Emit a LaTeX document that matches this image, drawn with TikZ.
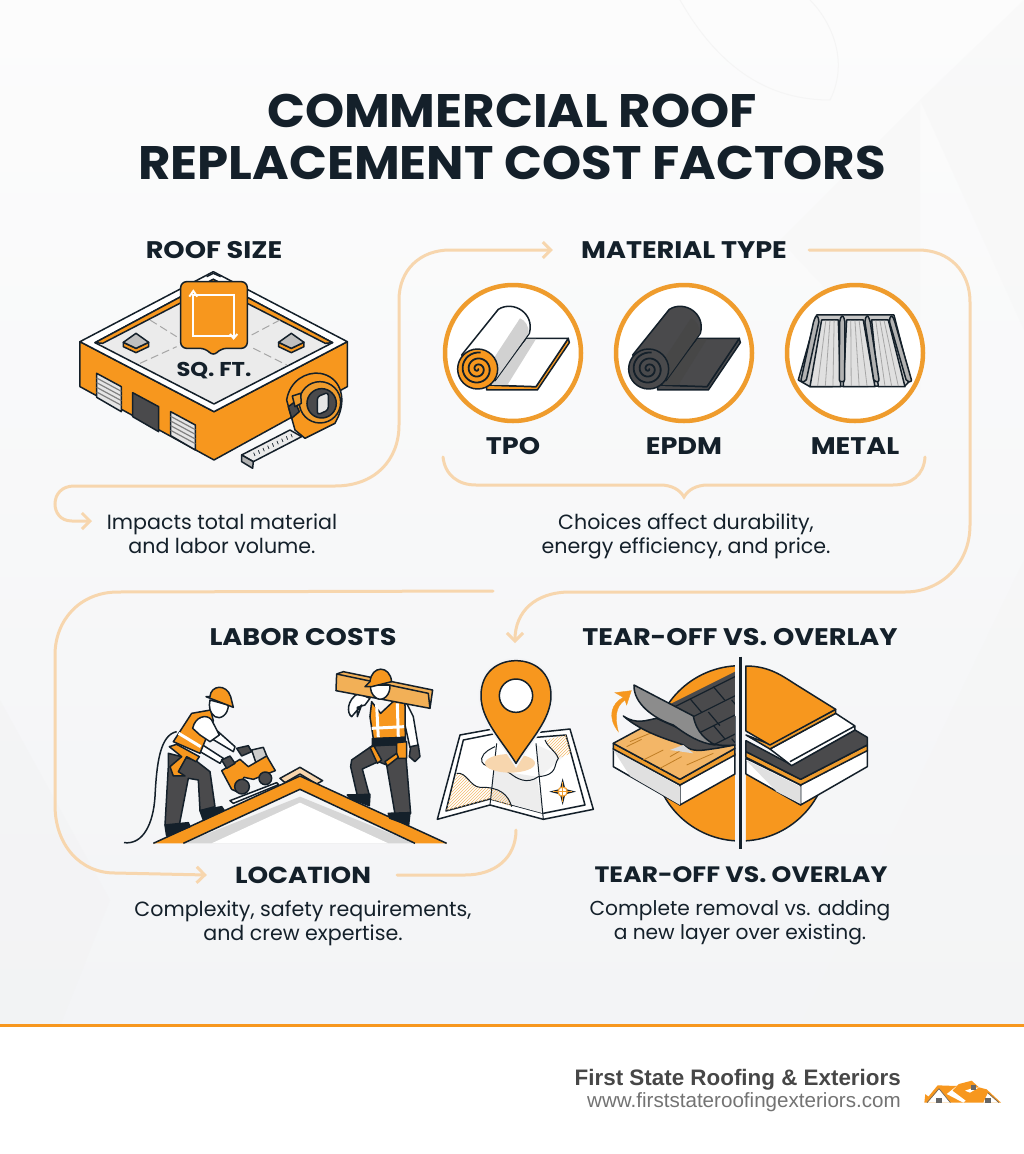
\documentclass[tikz,border=0pt]{standalone}
\usepackage{fontspec}
\setmainfont{Poppins}
\newfontfamily\footfont{Liberation Sans}
\newfontfamily\titlefont{Poppins}[FakeStretch=1.06]
\newfontfamily\headfont{Poppins}[FakeStretch=1.13]
\usetikzlibrary{arrows.meta,patterns}
\definecolor{inkc}{HTML}{14202A}
\definecolor{orangeM}{HTML}{F7971E}
\definecolor{ringc}{HTML}{EF9C2D}
\definecolor{tanc}{HTML}{F7D6AE}
\definecolor{darkg}{HTML}{4A4A4C}
\definecolor{papertop}{HTML}{FCFCFC}
\definecolor{paperlow}{HTML}{F3F4F6}
\tikzstyle{ink}=[draw=inkc,line width=1.5pt,line join=round]
\tikzstyle{flow}=[draw=tanc,line width=3pt,line cap=round,{Straight Barb[length=8pt,width=16pt,line width=3pt]}-{Straight Barb[length=8pt,width=16pt,line width=3pt]}]
\tikzstyle{flowend}=[draw=tanc,line width=3pt,line cap=round,-{Straight Barb[length=8pt,width=16pt,line width=3pt]}]
\tikzstyle{plainflow}=[draw=tanc,line width=3pt,line cap=round]
\tikzstyle{heading}=[inner sep=0pt,text=inkc,font=\headfont\fontsize{24}{26}\selectfont\bfseries]
\tikzstyle{lowhead}=[inner sep=0pt,text=inkc,font=\headfont\fontsize{23.2}{26}\selectfont\bfseries]
\tikzstyle{titleline}=[inner sep=0pt,text=inkc,font=\titlefont\fontsize{47}{50}\selectfont\bfseries]
\tikzstyle{note}=[inner sep=0pt,text=inkc,align=center,font=\fontsize{20.6}{24}\selectfont]
\tikzstyle{zoomed}=[x=0.3333pt,y=-0.3333pt]
\begin{document}
\begin{tikzpicture}[x=1pt,y=-1pt]
    \useasboundingbox (0,0) rectangle (1024,1154);
    % First the page and its faint facets
    \shade[top color=papertop,bottom color=paperlow] (0,0) rectangle (1024,1026);
    \fill[black!4,opacity=.35] (920,100) -- (1024,0) -- (1024,330) -- cycle;
    \fill[black!4,opacity=.35] (780,240) -- (920,100) -- (920,390) -- cycle;
    \fill[black!5,opacity=.4] (0,700) -- (110,900) -- (60,1026) -- (0,1026) -- cycle;
    \fill[black!4,opacity=.4] (1024,560) -- (800,1026) -- (1024,1026) -- cycle;
    \draw[black!4,line width=1pt] (680,0) .. controls (720,70) and (770,100) .. (830,100) .. controls (850,60) and (830,20) .. (810,0);
    \fill[white] (0,1026) rectangle (1024,1154);
    \fill[orangeM] (0,1024) rectangle (1024,1027);
    % Then the title and all texts
    \node[titleline] (title1) at (512,111) {COMMERCIAL ROOF};
    \node[titleline] (title2) at (512,163) {REPLACEMENT COST FACTORS};
    \foreach \pos/\name/\txt in {{(214,250)/sizehead/ROOF SIZE}, {(684,250)/mathead/MATERIAL TYPE}, {(513,446)/tpohead/TPO}, {(684,446)/epdmhead/EPDM}, {(855,446)/metalhead/METAL}, {(303,637)/laborhead/LABOR COSTS}, {(740,637)/tearhead/TEAR-OFF VS. OVERLAY}}
        \node[heading] (\name) at \pos {\txt};
    \node[lowhead] (lochead) at (303,875) {LOCATION};
    \node[lowhead,font=\headfont\fontsize{22.3}{26}\selectfont\bfseries] (overhead) at (741,875) {TEAR-OFF VS. OVERLAY};
    \node[note] (sizenote) at (222,534) {Impacts total material\\and labor volume.};
    \node[note] (matnote) at (686,536) {Choices affect durability,\\energy efficiency, and price.};
    \node[note] (locnote) at (303,923) {Complexity, safety requirements,\\and crew expertise.};
    \node[note,font=\fontsize{20.2}{24}\selectfont] (overnote) at (740,923) {Complete removal vs. adding\\a new layer over existing.};
    \node[inner sep=0pt,anchor=east,text=black!72,font=\footfont\fontsize{22.4}{26}\selectfont\bfseries] (brand) at (901,1080) {First State Roofing \& Exteriors};
    \node[inner sep=0pt,anchor=east,text=black!55,font=\footfont\fontsize{20.6}{24}\selectfont] (site) at (901,1102) {www.firststateroofingexteriors.com};
    % Connectors between the blocks
    \coordinate (sizetip) at (92,521);
    \coordinate (pintip) at (515,643);
    \coordinate (looptip) at (493,591);
    \coordinate (mapfoot) at (516,830);
    \draw[flow] (sizetip) -- (72,521) .. controls (60,521) and (55,512) .. (55,504) .. controls (55,494) and (62,486) .. (74,486) -- (335,486) .. controls (375,486) and (399,460) .. (399,425) -- (399,300) .. controls (399,270) and (420,250) .. (450,250) -- ([xshift=-28pt]mathead.west);
    \draw[flowend] ([xshift=22pt]mathead.east) -- (918,250) .. controls (950,250) and (970,272) .. (970,302) -- (970,525) .. controls (970,565) and (940,592) .. (905,592) -- (570,592) .. controls (535,592) and (515,612) .. (pintip);
    \draw[flowend] (looptip) -- (118,592) .. controls (80,592) and (55,620) .. (55,655) -- (55,805) .. controls (55,845) and (80,873) .. (115,873) -- ([xshift=-28pt]lochead.west);
    \draw[plainflow] ([xshift=26pt]lochead.east) -- (465,875) .. controls (495,875) and (516,858) .. (mapfoot);
    \draw[plainflow] (443,457) .. controls (445,475) and (458,485) .. (476,485) -- (660,485) .. controls (672,485) and (680,490) .. (684,497) .. controls (688,490) and (696,485) .. (708,485) -- (893,485) .. controls (911,485) and (924,475) .. (925,457);

    % Roof size: the building
    \begin{scope}[shift={(60,230)},zoomed]
        \draw[ink,fill=orangeM] (60,335) -- (60,470) -- (462,690) -- (862,470) -- (862,335) -- (462,545) -- cycle;
        \draw[ink,fill=white] (60,335) -- (460,125) -- (862,335) -- (462,545) -- cycle;
        \draw[ink,fill=black!8] (105,338) -- (460,148) -- (818,338) -- (462,522) -- cycle;
        \draw[ink,fill=orangeM] (105,338) -- (460,148) -- (818,338) -- (796,340) -- (460,168) -- (128,340) -- cycle;
        \foreach \a/\b in {{(240,400)/(350,350)}, {(270,270)/(350,320)}, {(575,315)/(660,270)}, {(580,355)/(680,405)}}
            \draw[black!35,line width=1pt,dash pattern=on 8pt off 4pt] \a -- \b;
        \foreach \sx in {228,694} {
            \draw[ink,fill=orangeM] (\sx-38,337) -- (\sx-38,350) -- (\sx,368) -- (\sx+38,350) -- (\sx+38,337) -- (\sx,355) -- cycle;
            \draw[ink,fill=black!25] (\sx-38,337) -- (\sx,310) -- (\sx+38,337) -- (\sx,355) -- cycle;
        }
        % doors
        \foreach \p/\q in {110/430, 332/545} {
            \draw[ink,fill=black!10] (\p,\q) -- (\p+74,\q+40) -- (\p+74,\q+115) -- (\p,\q+72) -- cycle;
            \foreach \k in {14,28,42,56}
                \draw[black!50,line width=1.2pt] (\p,\q+\k) -- (\p+74,\q+40+\k);
        }
        \draw[ink,fill=darkg] (218,488) -- (296,530) -- (296,605) -- (218,560) -- cycle;
        % tape measure
        \draw[ink,fill=black!8] (545,675) -- (690,600) -- (725,620) -- (580,695) -- cycle;
        \draw[ink,fill=black!30] (545,675) -- (545,695) -- (578,715) -- (580,695) -- cycle;
        \foreach \k in {0,...,8}
            \draw[inkc,line width=.7pt] (585+14*\k,678-7*\k) -- (581+14*\k,668-7*\k);
        \draw[ink,fill=orangeM] (680,510) .. controls (690,450) and (740,425) .. (780,430) .. controls (840,440) and (860,500) .. (835,560) -- (825,580) -- (735,625) -- (705,600) -- cycle;
        \draw[ink,fill=ringc] (780,517) circle (62);
        \draw[ink,fill=darkg] (785,520) circle (44);
        \draw[ink,fill=black!10,rounded corners=3pt] (772,500) -- (805,487) -- (805,540) -- (772,555) -- cycle;
        \draw[ink,fill=darkg] (685,530) -- (705,515) -- (718,545) -- (695,565) -- cycle;
        \draw[ink,fill=ringc] (697,498) -- (722,490) -- (724,520) -- (705,530) -- cycle;
        % sq. ft. bubble
        \draw[ink,fill=orangeM,rounded corners=6pt] (362,155) -- (562,155) -- (562,355) -- (482,355) -- (460,380) -- (438,355) -- (362,355) -- cycle;
        \draw[white,line width=2pt] (400,195) -- (400,318) -- (522,318) -- (522,195) -- cycle;
        \draw[white,line width=2pt] (388,200) -- (400,183) -- (412,200);
        \draw[white,line width=2pt] (510,312) -- (521,325) -- (532,312);
        \draw[inkc,line width=1.4pt] (440,140) -- (460,130) -- (482,140);
    \end{scope}
    \node[inner sep=0pt,text=inkc,font=\headfont\fontsize{20}{22}\selectfont\bfseries] (sqft) at (214,371) {SQ. FT.};

    % Material circles
    \foreach \cx in {513,684,855}
        \draw[draw=ringc,fill=white,line width=4.5pt] (\cx,353) circle (68);
    \foreach \dx/\bodyc/\shadec/\sheetc/\edgec/\coilc/\linec in {0/white/black!18/white/orangeM/orangeM/inkc, 171/darkg/black!72/darkg/darkg/darkg/inkc} {
        \begin{scope}[shift={(430+\dx,270)},zoomed]
            \draw[ink,fill=\edgec] (415,205) -- (418,218) -- (322,360) -- (170,360) -- (170,345) -- (318,350) -- cycle;
            \draw[ink,fill=\sheetc] (290,205) -- (415,205) -- (318,350) -- (170,345) -- cycle;
            \fill[\shadec] (290,207) -- (318,207) -- (232,345) -- (185,345) -- cycle;
            \draw[ink,fill=\bodyc] (95,255) -- (205,118) .. controls (250,90) and (315,130) .. (298,190) -- (195,332) -- cycle;
            \fill[\shadec] (188,270) -- (270,145) .. controls (285,150) and (298,170) .. (296,190) -- (197,328) -- cycle;
            \draw[ink,fill=\coilc] (143,297) circle (60);
            \draw[\linec,line width=1.8pt,smooth] plot[domain=0:1000,samples=90] ({143+\x/20*cos(\x)},{297+\x/20*sin(\x)});
        \end{scope}
    }
    % Metal panel
    \begin{scope}[shift={(430,270)},zoomed]
        \draw[ink,fill=black!22] (1160,135) -- (1105,330) -- (1140,350) -- (1425,348) -- (1442,330) -- (1392,135) -- cycle;
        \foreach \ta/\tb/\ba/\bb in {1175/1225/1140/1232, 1250/1300/1240/1335, 1325/1375/1345/1425} {
            \draw[ink,fill=black!12] (\ta,150) -- (\tb,150) -- (\bb,350) -- (\ba,350) -- cycle;
            \foreach \f in {.25,.5,.75}
                \draw[black!35,line width=.8pt] (\ta+\f*\tb-\f*\ta,152) -- (\ba+\f*\bb-\f*\ba,348);
        }
        \foreach \ra/\rb in {1160/1120, 1237/1236, 1312/1340, 1385/1438}
            \draw[ink,fill=black!30,rounded corners=2pt] (\ra-8,150) -- (\ra,135) -- (\ra+8,150) -- (\rb+8,335) -- (\rb-8,335) -- cycle;
    \end{scope}

    % Labor costs: roof and two workers
    \begin{scope}[shift={(120,650)},zoomed]
        \fill[black!16] (190,580) -- (540,440) -- (885,580) -- cycle;
        \fill[white] (275,580) -- (540,458) -- (805,580) -- cycle;
        \draw[ink,fill=tanc] (480,385) -- (540,352) -- (608,392) -- (590,402) -- (540,372) -- (495,398) -- cycle;
        \fill[orangeM] (100,580) -- (540,378) -- (980,580) -- (885,580) -- (540,418) -- (190,580) -- cycle;
        \draw[ink] (100,580) -- (540,378) -- (980,580);
        \draw[ink] (190,580) -- (540,418) -- (885,580);
        \draw[inkc,line width=1.5pt] (12,578) .. controls (70,585) and (100,520) .. (105,440) .. controls (110,340) and (120,255) .. (170,245);
        % left worker
        \draw[ink,fill=darkg] (145,350) -- (135,525) -- (178,525) -- (205,385) -- (235,390) -- (240,482) -- (285,470) -- (270,365) -- (225,330) -- (145,310) -- cycle;
        \draw[ink,fill=inkc] (135,525) -- (205,518) -- (210,530) -- (140,558) -- cycle;
        \draw[ink,fill=inkc] (240,482) -- (305,470) -- (312,480) -- (250,510) -- cycle;
        \draw[ink,fill=white] (272,225) -- (345,290) -- (340,305) -- (265,260) -- cycle;
        \draw[ink,fill=white] (225,270) -- (310,325) -- (300,340) -- (215,290) -- cycle;
        \draw[ink,fill=orangeM] (160,275) -- (215,190) -- (272,180) -- (280,212) -- (240,310) -- cycle;
        \draw[ink,fill=white] (218,235) .. controls (225,200) and (260,190) .. (275,210) -- (298,255) -- (270,275) -- (240,255) -- cycle;
        \draw[white,line width=3pt] (176,250) -- (242,290);
        \draw[ink,fill=orangeM] (148,290) -- (170,283) -- (238,320) -- (228,335) -- (200,320) -- (175,365) -- (195,378) -- (160,378) -- (150,350) -- (185,320) -- cycle;
        \draw[ink,fill=white] (270,150) -- (325,165) .. controls (325,195) and (300,210) .. (285,200) .. controls (270,190) and (265,170) .. (270,150) -- cycle;
        \draw[ink,fill=orangeM] (270,140) .. controls (272,105) and (320,100) .. (332,140) -- (340,172) -- (258,140) -- cycle;
        % saw
        \draw[ink,fill=white] (330,452) -- (470,398) -- (476,404) -- (340,460) -- cycle;
        \draw[ink,fill=black!20] (395,300) -- (430,292) -- (445,330) -- (410,345) -- cycle;
        \draw[ink,fill=orangeM] (305,362) -- (360,328) -- (385,350) -- (440,318) -- (466,362) -- (400,388) -- (372,382) -- (350,425) -- (335,418) -- cycle;
        \draw[ink,fill=darkg] (366,410) circle (22);
        \draw[ink,fill=darkg] (436,385) circle (19);
        \draw[ink,fill=darkg] (350,295) -- (385,287) -- (395,305) -- (365,318) -- cycle;
        \draw[ink,fill=darkg] (305,330) -- (330,318) -- (345,340) -- (320,355) -- cycle;
        % right worker
        \draw[ink,fill=white] (725,165) -- (695,200) .. controls (680,190) and (680,150) .. (715,130) -- (750,145) -- (735,165) -- (712,172) -- (712,200) -- cycle;
        \draw[ink,fill=darkg] (760,285) -- (695,330) -- (692,350) -- (712,437) -- (748,435) -- (727,357) -- (775,335) -- (800,345) -- (825,492) -- (872,490) -- (855,285) -- cycle;
        \draw[ink,fill=inkc] (682,435) -- (750,433) -- (748,467) -- (690,445) -- cycle;
        \draw[ink,fill=inkc] (805,490) -- (870,488) -- (866,525) -- (810,505) -- cycle;
        \draw[ink,fill=white] (855,150) -- (880,200) -- (895,290) -- (870,292) -- (855,225) -- cycle;
        \draw[ink,fill=orangeM] (755,155) -- (782,190) -- (830,145) -- (855,160) -- (856,262) -- (760,266) -- (750,200) -- cycle;
        \draw[white,line width=3pt] (770,165) -- (775,262);
        \draw[white,line width=3pt] (832,160) -- (835,262);
        \draw[white,line width=3pt] (755,235) -- (852,230);
        \draw[ink,fill=inkc] (757,266) -- (856,262) -- (856,282) -- (757,288) -- cycle;
        \draw[ink,fill=orangeM] (830,278) -- (860,275) -- (860,325) -- (830,325) -- cycle;
        \draw[ink,fill=orangeM] (750,292) -- (762,288) -- (785,330) -- (772,340) -- cycle;
        \draw[ink,fill=orangeM] (795,335) -- (830,310) -- (835,322) -- (802,348) -- cycle;
        \draw[ink,fill=darkg] (872,290) -- (895,285) -- (900,320) -- (885,335) -- (868,320) -- cycle;
        \draw[ink,fill=ringc!80!white] (648,122) -- (650,72) -- (670,65) -- (938,120) -- (930,175) -- cycle;
        \draw[ink] (650,72) -- (925,130) -- (930,175);
        \draw[ink,fill=white] (752,105) -- (810,105) .. controls (812,135) and (790,155) .. (770,145) .. controls (755,135) and (750,120) .. (752,105) -- cycle;
        \draw[ink,fill=orangeM] (750,95) .. controls (755,45) and (810,45) .. (815,95) -- (755,110) -- (735,110) -- cycle;
    \end{scope}

    % Location: map and pin
    \begin{scope}[shift={(430,650)},zoomed]
        \draw[ink,fill=white] (22,508) -- (90,255) -- (200,235) -- (318,248) -- (420,237) -- (490,478) -- (340,508) -- (180,465) -- cycle;
        \draw[ink] (48,483) -- (100,270) -- (200,250) -- (318,262) -- (408,255) -- (465,465) -- (340,490) -- (180,447) -- cycle;
        \fill[black!7] (190,360) -- (320,380) -- (340,490) -- (182,447) -- cycle;
        \fill[black!5] (320,285) -- (400,320) -- (330,380) -- cycle;
        \path[pattern=north east lines,pattern color=ringc!70] (48,483) -- (80,370) .. controls (110,365) and (120,410) .. (150,412) .. controls (210,410) and (235,435) .. (245,470) -- (180,447) -- cycle;
        \path[pattern=north east lines,pattern color=ringc!70] (345,270) -- (408,255) -- (423,310) -- (385,325) .. controls (375,300) and (355,295) .. (345,270) -- cycle;
        \draw[inkc,line width=1pt] (80,370) .. controls (110,365) and (120,410) .. (150,412) .. controls (210,410) and (235,435) .. (245,470);
        \draw[inkc,line width=1pt] (345,270) .. controls (355,295) and (375,300) .. (385,325) .. controls (370,345) and (385,375) .. (325,380) .. controls (290,405) and (260,385) .. (240,370) .. controls (210,345) and (150,360) .. (155,325) .. controls (160,305) and (185,295) .. (195,290);
        \draw[inkc,line width=1pt] (200,280) -- (180,465);
        \draw[inkc,line width=1pt] (318,280) -- (340,508);
        \fill[tanc] (240,340) ellipse (75 and 28);
        \foreach \t in {0,90,180,270}
            \fill[inkc,rotate around={\t:(398,425)}] (398,385) -- (406,417) -- (398,425) -- (390,417) -- cycle;
        \draw[draw=ringc,fill=white,line width=1.2pt] (398,425) circle (14);
        \draw[draw=ringc,line width=1.6pt] (370,425) -- (426,425);
        \draw[draw=ringc,line width=1.6pt] (398,395) -- (398,455);
        \draw[paperlow,line width=5pt] (258,340) .. controls (215,270) and (153,210) .. (153,137) .. controls (153,65) and (205,32) .. (258,32) .. controls (311,32) and (363,65) .. (363,137) .. controls (363,210) and (300,270) .. (258,340) -- cycle;
        \draw[ink,fill=orangeM] (258,340) .. controls (215,270) and (153,210) .. (153,137) .. controls (153,65) and (205,32) .. (258,32) .. controls (311,32) and (363,65) .. (363,137) .. controls (363,210) and (300,270) .. (258,340) -- cycle;
        \draw[ink,fill=white] (258,137) circle (50);
    \end{scope}

    % Tear-off against overlay
    \begin{scope}[shift={(430,650)},zoomed]
        \begin{scope}
            \clip (600,0) rectangle (915,600);
            \draw[ink,fill=orangeM] (932,310) circle (263);
        \end{scope}
        \begin{scope}
            \clip (948,350) rectangle (1300,600);
            \draw[ink,fill=orangeM] (932,310) circle (263);
        \end{scope}
        \draw[ink,fill=white] (550,295) -- (750,405) -- (750,465) -- (550,350) -- cycle;
        \draw[ink,fill=white] (750,405) -- (915,312) -- (915,372) -- (750,465) -- cycle;
        \fill[black!12] (550,300) -- (750,410) -- (750,465) -- (600,378) -- cycle;
        \draw[ink,fill=ringc] (550,280) -- (750,388) -- (915,295) -- (915,315) -- (750,405) -- (550,297) -- cycle;
        \draw[ink,fill=tanc!45!ringc] (550,280) -- (670,215) -- (915,200) -- (915,295) -- (750,388) -- cycle;
        \foreach \a/\b in {{(600,275)/(660,250)}, {(640,330)/(700,300)}, {(690,355)/(755,320)}, {(590,290)/(635,268)}, {(720,320)/(790,280)}, {(770,345)/(850,310)}}
            \draw[ringc!80!black,line width=.8pt] \a -- \b;
        \begin{scope}
            \clip (700,60) rectangle (915,300);
            \fill[darkg] (715,165) -- (915,65) -- (915,285) -- (830,290) -- cycle;
            \foreach \k in {0,1,2,3,4}
                \draw[inkc,line width=1.2pt] (725+35*\k,175+40*\k) -- (925+35*\k,75+40*\k);
            \foreach \k/\s in {0/0,1/20,2/0,3/20,4/0} {
                \draw[inkc,line width=1.2pt] (780+\s+35*\k,146+40*\k) -- (815+\s+35*\k,187+40*\k);
                \draw[inkc,line width=1.2pt] (850+\s+35*\k,110+40*\k) -- (885+\s+35*\k,151+40*\k);
            }
        \end{scope}
        \draw[ink,fill=darkg] (580,198) .. controls (620,225) and (650,210) .. (680,205) -- (780,250) .. controls (820,280) and (860,290) .. (915,285) -- (860,295) .. controls (820,300) and (790,310) .. (760,285) .. controls (720,270) and (640,250) .. (580,198) -- cycle;
        \draw[ink,fill=black!45] (612,105) -- (790,198) .. controls (800,250) and (830,270) .. (855,285) .. controls (810,280) and (770,255) .. (730,225) .. controls (670,205) and (610,160) .. (612,105) -- cycle;
        \fill[black!15] (720,300) -- (760,285) -- (790,310) -- cycle;
        \draw[draw=ringc,fill=orangeM] (565,245) .. controls (530,200) and (545,160) .. (580,142) -- (555,128) -- (604,122) -- (590,165) -- (585,150) .. controls (555,170) and (555,205) .. (565,245) -- cycle;
        % overlay half
        \draw[ink,fill=white] (948,325) -- (1112,405) -- (1112,465) -- (948,372) -- cycle;
        \draw[ink,fill=white] (1112,405) -- (1312,300) -- (1312,350) -- (1112,465) -- cycle;
        \fill[black!12] (948,330) -- (1112,410) -- (1112,462) -- (1040,425) -- cycle;
        \draw[ink,fill=ringc] (948,305) -- (1112,388) -- (1312,285) -- (1312,302) -- (1112,405) -- (948,322) -- cycle;
        \draw[ink,fill=darkg] (948,272) -- (1085,345) -- (1275,240) -- (1312,262) -- (1312,285) -- (1112,388) -- (948,305) -- cycle;
        \draw[ink,fill=white] (1020,297) -- (1217,190) -- (1275,228) -- (1275,240) -- (1085,347) -- cycle;
        \draw[ink] (1080,335) -- (1275,228);
        \draw[ink,fill=ringc] (948,255) -- (1020,297) -- (1217,190) -- (1217,178) -- (1020,283) -- cycle;
        \draw[ink,fill=orangeM] (948,48) .. controls (1020,48) and (1060,80) .. (1100,105) -- (1217,178) -- (1020,285) -- (948,243) -- cycle;
        \draw[inkc,line width=2.6pt] (932,20) -- (932,598);
    \end{scope}

    % Logo in the footer
    \begin{scope}[shift={(915,1070)},zoomed]
        \fill[orangeM] (28,98) -- (31,72) -- (40,80) -- (68,46) -- (125,48) -- (132,42) -- (170,32) -- (192,52) -- (215,58) -- (258,98) -- (155,98) -- cycle;
        \fill[white] (38,98) -- (72,58) -- (106,98) -- cycle;
        \fill[white] (205,98) -- (218,70) -- (250,98) -- cycle;
        \fill[white] (95,72) -- (125,48) -- (112,62) -- (152,92) -- (145,98) -- cycle;
        \fill[white] (150,62) -- (170,55) -- (192,52) -- (165,68) -- cycle;
        \draw[black!60,line width=.6pt] (36,98) -- (72,56) -- (106,98);
        \draw[black!60,line width=.6pt] (218,68) -- (252,98);
        \foreach \lx/\ly in {72/91, 219/92, 176/52}
            \fill[black!60] (\lx-8,\ly-8) rectangle (\lx+8,\ly+8);
    \end{scope}
\end{tikzpicture}
\end{document}
